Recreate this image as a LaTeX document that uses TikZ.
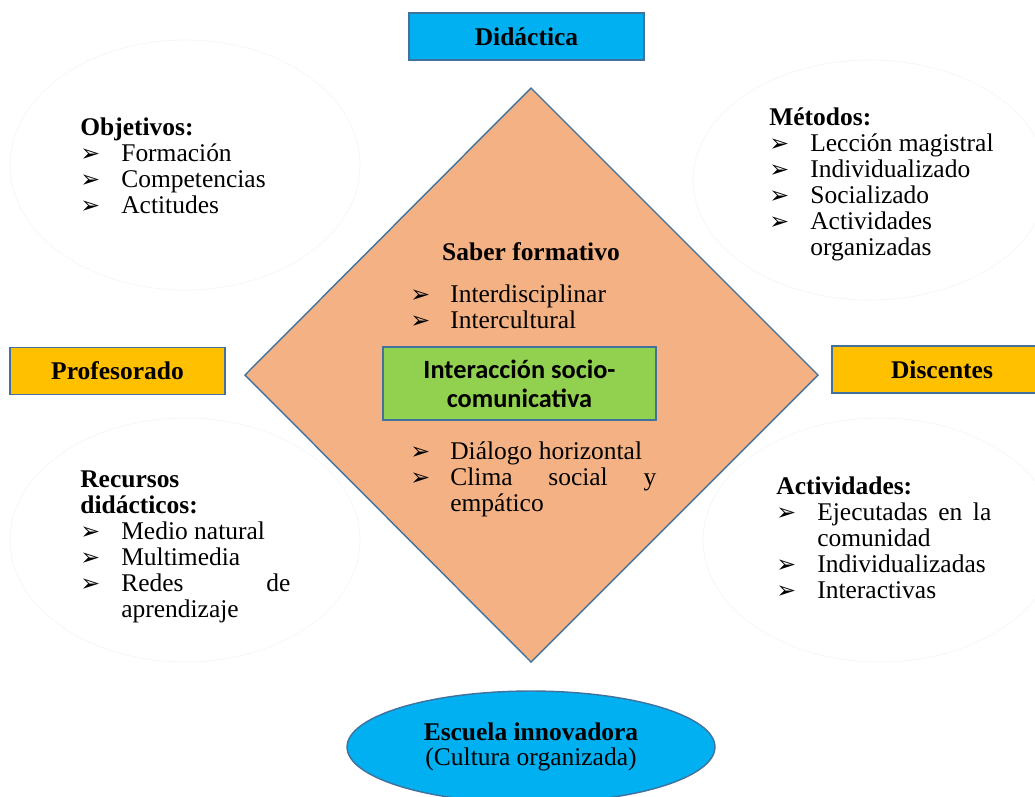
\documentclass[tikz,border=0pt]{standalone}
\usepackage{fontspec}
\setmainfont{Liberation Serif}
\newfontfamily\calfont{Carlito}
\newfontfamily\symfont{DejaVu Sans}
\usetikzlibrary{shapes.geometric}

\definecolor{celeste}{HTML}{00B0F0}
\definecolor{salmon}{HTML}{F4B183}
\definecolor{ambar}{HTML}{FFC000}
\definecolor{verde}{HTML}{92D050}
\definecolor{borde}{HTML}{41719C}

\newcommand{\tam}{\fontsize{14.5}{14.8}\selectfont}
\newcommand{\flecha}{{\symfont\fontsize{13.5}{13.5}\selectfont ➢}}

\tikzset{
  titulo/.style={draw=borde, line width=0.8pt, minimum height=0.94cm, font=\tam\bfseries},
  lista/.style={anchor=north west, inner sep=0pt, align=left, font=\tam},
  halo/.style={draw=black!4, line width=0.4pt},
}

\begin{document}
\begin{tikzpicture}[x=0.02cm, y=-0.02cm]
        \useasboundingbox (0,0) rectangle (1035,796);
        % faint ellipses behind the lists
        \draw[halo] (185,165) ellipse [x radius=175, y radius=125];
        \draw[halo] (870,180) ellipse [x radius=177, y radius=120];
        \draw[halo] (185,540) ellipse [x radius=175, y radius=122];
        \draw[halo] (880,540) ellipse [x radius=177, y radius=122];

        % the diamond
        \coordinate (T) at (531,88);
        \coordinate (L) at (245,375);
        \coordinate (R) at (818,375);
        \coordinate (B) at (531,662);
        \filldraw[fill=salmon, draw=borde, line width=0.8pt] (T) -- (R) -- (B) -- (L) -- cycle;

        \node[titulo, fill=celeste, minimum width=4.7cm] (didactica) at (526.5,36.5) {Didáctica};
        \node[titulo, fill=ambar, minimum width=4.3cm] (profesorado) at (117.5,371) {Profesorado};
        \node[titulo, fill=ambar, minimum width=4.4cm] (discentes) at (942,369.5) {Discentes};
        \node[draw=borde, line width=0.8pt, fill=verde, minimum width=5.46cm, minimum height=1.46cm,
              align=center, font=\calfont\fontsize{15}{16.6}\selectfont\bfseries] (interaccion) at (519.5,383.5)
              {Interacción socio-\\comunicativa};
        \node[ellipse, draw=borde, line width=0.8pt, fill=celeste, minimum width=7.36cm, minimum height=2.24cm,
              align=center, font=\fontsize{14.5}{14}\selectfont] (escuela) at (531,747)
              {\textbf{Escuela innovadora}\\(Cultura organizada)};

        \node[font=\tam\bfseries] (saber) at (531,252) {Saber formativo};

        \node[lista] (objetivos) at (80,117) {\begin{tabular}{@{}p{0.82cm}@{}l@{}}
          \multicolumn{2}{@{}l@{}}{\textbf{Objetivos:}}\\
          \flecha & Formación\\
          \flecha & Competencias\\
          \flecha & Actitudes
        \end{tabular}};
        \node[lista] (metodos) at (769,107) {\begin{tabular}{@{}p{0.82cm}@{}l@{}}
          \multicolumn{2}{@{}l@{}}{\textbf{Métodos:}}\\
          \flecha & Lección magistral\\
          \flecha & Individualizado\\
          \flecha & Socializado\\
          \flecha & Actividades\\
                  & organizadas
        \end{tabular}};
        \node[lista] (recursos) at (80,469) {\begin{tabular}{@{}p{0.82cm}@{}l@{}}
          \multicolumn{2}{@{}l@{}}{\textbf{Recursos}}\\
          \multicolumn{2}{@{}l@{}}{\textbf{didácticos:}}\\
          \flecha & Medio natural\\
          \flecha & Multimedia\\
          \flecha & \makebox[3.38cm][s]{Redes\hfill de}\\
                  & aprendizaje
        \end{tabular}};
        \node[lista] (actividades) at (776,476) {\begin{tabular}{@{}p{0.82cm}@{}l@{}}
          \multicolumn{2}{@{}l@{}}{\textbf{Actividades:}}\\
          \flecha & \makebox[3.48cm][s]{Ejecutadas\hfill en\hfill la}\\
                  & comunidad\\
          \flecha & Individualizadas\\
          \flecha & Interactivas
        \end{tabular}};
        \node[lista] (saberlista) at (410,284) {\begin{tabular}{@{}p{0.8cm}@{}l@{}}
          \flecha & Interdisciplinar\\
          \flecha & Intercultural
        \end{tabular}};
        \node[lista] (dialogo) at (410,441) {\begin{tabular}{@{}p{0.8cm}@{}l@{}}
          \flecha & Diálogo horizontal\\
          \flecha & \makebox[4.12cm][s]{Clima\hfill social\hfill y}\\
                  & empático
        \end{tabular}};
\end{tikzpicture}
\end{document}
